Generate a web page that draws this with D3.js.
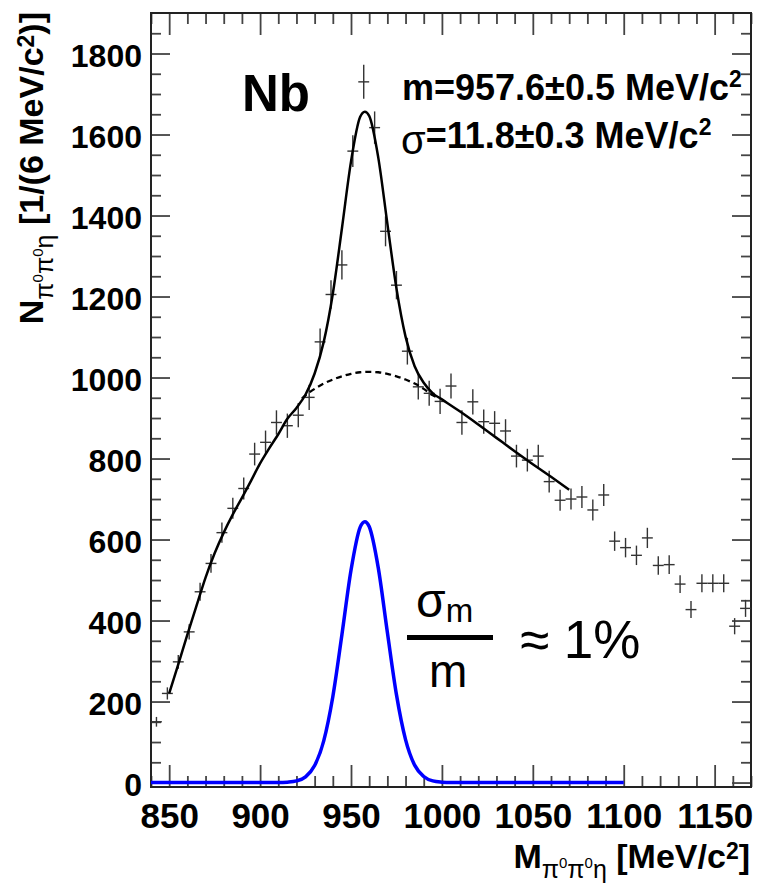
<!DOCTYPE html>
<html>
<head>
<meta charset="utf-8">
<script src="https://cdn.jsdelivr.net/npm/d3@7"></script>
<style>
    body { margin: 0; background: #fff; }
    #chart { width: 758px; height: 883px; }
    text { font-family: "Liberation Sans", Arial, Helvetica, sans-serif; fill: #000; }
    .axis text { font-weight: bold; }
    .axis line { stroke: #444; stroke-width: 1.8; }
    .cross { stroke: #333; stroke-width: 1.4; }
</style>
</head>
<body>
<div id="chart"><svg width="758" height="883"></svg></div>
<script>
// histogram: 6 MeV bins from 840 to 1170
const binCenters = [843, 849, 855, 861, 867, 873, 879, 885, 891, 897, 903, 909, 915, 921, 927, 933, 939, 945, 951, 957,
    963, 969, 975, 981, 987, 993, 999, 1005, 1011, 1017, 1023, 1029, 1035, 1041, 1047, 1053, 1059, 1065, 1071, 1077,
    1083, 1089, 1095, 1101, 1107, 1113, 1119, 1125, 1131, 1137, 1143, 1149, 1155, 1161, 1167];
const counts = [150, 220, 298, 372, 471, 541, 617, 677, 726, 811, 840, 889, 881, 907, 951, 1088, 1205, 1278, 1559, 1730,
    1617, 1361, 1228, 1065, 977, 961, 941, 979, 889, 940, 891, 887, 868, 806, 796, 806, 743, 697, 700, 705,
    673, 710, 596, 580, 561, 604, 536, 538, 490, 427, 492, 492, 492, 386, 430];
const errors = [12, 15, 17, 19, 22, 23, 25, 26, 27, 28, 29, 30, 30, 30, 31, 33, 35, 36, 39, 42,
    40, 37, 35, 33, 31, 31, 31, 31, 30, 31, 30, 30, 29, 28, 28, 28, 27, 26, 26, 27,
    26, 27, 24, 24, 24, 25, 23, 23, 22, 21, 22, 22, 22, 20, 21];
const binHalfWidth = 3;

// total fit (signal + background), 850-1070
const fitX = [850, 855, 860, 865, 870, 875, 880, 885, 890, 895, 900, 905, 910, 915, 920, 925, 930, 935, 940, 945,
    950, 955, 957.6, 960, 965, 970, 975, 980, 985, 990, 995, 1000, 1010, 1020, 1030, 1040, 1050, 1060, 1070];
const fitY = [220, 292, 365, 436, 506, 566, 617, 662, 703, 745, 788, 825, 860, 898, 925, 958, 1010, 1088, 1207, 1368,
    1533, 1643, 1656, 1646, 1543, 1380, 1220, 1101, 1028, 987, 961, 946, 916, 884, 851, 818, 786, 755, 723];

// background under the peak (dashed)
const bgX = [923, 925, 930, 935, 940, 945, 950, 955, 960, 965, 970, 975, 980, 985, 990, 995, 998];
const bgY = [948, 956, 972, 985, 995, 1003, 1009, 1013, 1014, 1013, 1009, 1003, 995, 985, 972, 956, 950];

// signal only (blue)
const sigX = [840, 900, 910, 915, 920, 925, 930, 935, 940, 945, 950, 955, 957.6, 960, 965, 970, 975, 980,
    985, 990, 995, 1000, 1005, 1015, 1100];
const sigY = [0, 0, 0, 1, 4, 14, 42, 103, 212, 365, 524, 630, 644, 632, 530, 371, 217, 106,
    43, 15, 4, 1, 0, 0, 0];

const xMajor = [850, 900, 950, 1000, 1050, 1100, 1150];
const yMajor = [0, 200, 400, 600, 800, 1000, 1200, 1400, 1600, 1800];

function drawChart() {
    const svg = d3.select("#chart svg");
    const left = 151, right = 751, top = 13, bottom = 787;

    const xScale = d3.scaleLinear().domain([840, 1170]).range([left, right]);
    const yScale = d3.scaleLinear().domain([-11, 1900]).range([bottom, top]);

    const xMinor = d3.range(840, 1171, 10).filter(function(d) { return xMajor.indexOf(d) < 0; });
    const yMinor = d3.range(0, 1900, 50).filter(function(d) { return yMajor.indexOf(d) < 0; });

    // ticks on all four sides, ROOT style (inside the frame)
    svg.append("g").attr("class", "axis")
        .attr("transform", "translate(" + left + ",0)")
        .call(d3.axisLeft(yScale).tickValues(yMajor).tickSize(-19).tickPadding(9).tickFormat(d3.format("d")))
        .call(function(g) {
            g.selectAll("text").style("font-size", "32px").attr("dy", "0.4em");
        });
    svg.append("g").attr("class", "axis")
        .attr("transform", "translate(" + left + ",0)")
        .call(d3.axisLeft(yScale).tickValues(yMinor).tickSize(-10).tickFormat(""));
    svg.append("g").attr("class", "axis")
        .attr("transform", "translate(" + right + ",0)")
        .call(d3.axisRight(yScale).tickValues(yMajor).tickSize(-19).tickFormat(""));
    svg.append("g").attr("class", "axis")
        .attr("transform", "translate(" + right + ",0)")
        .call(d3.axisRight(yScale).tickValues(yMinor).tickSize(-10).tickFormat(""));

    svg.append("g").attr("class", "axis")
        .attr("transform", "translate(0," + bottom + ")")
        .call(d3.axisBottom(xScale).tickValues(xMajor).tickSize(-22).tickPadding(16).tickFormat(d3.format("d")))
        .call(function(g) {
            g.selectAll("text").style("font-size", "35px");
        });
    svg.append("g").attr("class", "axis")
        .attr("transform", "translate(0," + bottom + ")")
        .call(d3.axisBottom(xScale).tickValues(xMinor).tickSize(-11).tickFormat(""));
    svg.append("g").attr("class", "axis")
        .attr("transform", "translate(0," + top + ")")
        .call(d3.axisTop(xScale).tickValues(xMajor).tickSize(-22).tickFormat(""));
    svg.append("g").attr("class", "axis")
        .attr("transform", "translate(0," + top + ")")
        .call(d3.axisTop(xScale).tickValues(xMinor).tickSize(-11).tickFormat(""));

    svg.selectAll(".axis .domain").remove();

    svg.append("rect")
        .attr("x", left).attr("y", top)
        .attr("width", right - left).attr("height", bottom - top)
        .attr("fill", "none").attr("stroke", "#222").attr("stroke-width", 2);

    // clip
    svg.append("clipPath").attr("id", "plot")
        .append("rect")
        .attr("x", left).attr("y", top)
        .attr("width", right - left).attr("height", bottom - top);
    const plot = svg.append("g").attr("clip-path", "url(#plot)");

    // data points with error bars
    const bins = binCenters.map(function(c, i) { return { x: c, n: counts[i], e: errors[i] }; });
    const cross = plot.append("g").selectAll("g").data(bins).enter().append("g");
    cross.append("line").attr("class", "cross")
        .attr("x1", function(d) { return xScale(d.x); })
        .attr("x2", function(d) { return xScale(d.x); })
        .attr("y1", function(d) { return yScale(d.n - d.e); })
        .attr("y2", function(d) { return yScale(d.n + d.e); });
    cross.append("line").attr("class", "cross")
        .attr("x1", function(d) { return xScale(d.x - binHalfWidth); })
        .attr("x2", function(d) { return xScale(d.x + binHalfWidth); })
        .attr("y1", function(d) { return yScale(d.n); })
        .attr("y2", function(d) { return yScale(d.n); });

    const line = d3.line()
        .x(function(d) { return xScale(d[0]); })
        .y(function(d) { return yScale(d[1]); })
        .curve(d3.curveMonotoneX);

    plot.append("path")
        .datum(d3.zip(bgX, bgY))
        .attr("d", line)
        .attr("fill", "none").attr("stroke", "#000")
        .attr("stroke-width", 2.3).attr("stroke-dasharray", "6,4");

    plot.append("path")
        .datum(d3.zip(fitX, fitY))
        .attr("d", line)
        .attr("fill", "none").attr("stroke", "#000").attr("stroke-width", 2.5);

    plot.append("path")
        .datum(d3.zip(sigX, sigY))
        .attr("d", line)
        .attr("fill", "none").attr("stroke", "#0000ff").attr("stroke-width", 3.5);

    // annotations
    svg.append("text")
        .attr("x", 242).attr("y", 111)
        .style("font-size", "51px").style("font-weight", "bold")
        .text("Nb");

    const mText = svg.append("text")
        .attr("x", 402).attr("y", 100)
        .style("font-size", "36px").style("font-weight", "bold");
    mText.append("tspan").text("m=957.6\u00b10.5 MeV/c");
    mText.append("tspan").attr("dy", -13).style("font-size", "23px").text("2");

    const sText = svg.append("text")
        .attr("x", 401).attr("y", 148)
        .style("font-size", "36px").style("font-weight", "bold");
    sText.append("tspan").attr("dy", 6).style("font-weight", "normal").style("font-size", "40px").text("\u03c3");
    sText.append("tspan").attr("dy", -6).text("=11.8\u00b10.3 MeV/c");
    sText.append("tspan").attr("dy", -13).style("font-size", "23px").text("2");

    // sigma_m / m ~ 1%
    const num = svg.append("text").attr("x", 416).attr("y", 617).style("font-size", "48px");
    num.append("tspan").text("\u03c3");
    num.append("tspan").attr("dy", 5).style("font-size", "33px").text("m");
    svg.append("rect")
        .attr("x", 407).attr("y", 635).attr("width", 86).attr("height", 5)
        .attr("fill", "#000");
    svg.append("text").attr("x", 429).attr("y", 687).style("font-size", "46px").text("m");
    svg.append("text").attr("x", 520).attr("y", 658).style("font-size", "53px").text("\u2248 1%");

    // axis titles
    function title(sel, main, tail) {
        sel.style("font-size", "34px").style("font-weight", "bold").attr("text-anchor", "end");
        sel.append("tspan").text(main);
        sel.append("tspan").attr("dy", 10).style("font-size", "25px").style("font-weight", "normal").text("\u03c0");
        sel.append("tspan").attr("dy", -10).style("font-size", "15px").style("font-weight", "normal").text("0");
        sel.append("tspan").attr("dy", 10).style("font-size", "25px").style("font-weight", "normal").text("\u03c0");
        sel.append("tspan").attr("dy", -10).style("font-size", "15px").style("font-weight", "normal").text("0");
        sel.append("tspan").attr("dy", 10).style("font-size", "25px").style("font-weight", "normal").text("\u03b7");
        sel.append("tspan").attr("dy", -10).text(tail[0]);
        sel.append("tspan").attr("dy", -9).style("font-size", "23px").text("2");
        sel.append("tspan").attr("dy", 9).text(tail[1]);
    }
    title(svg.append("text").attr("x", 750).attr("y", 868), "M", [" [MeV/c", "]"]);
    title(svg.append("text").attr("transform", "translate(43,12) rotate(-90)"), "N", [" [1/(6 MeV/c", ")]"]);
}

drawChart();
</script>
</body>
</html>
